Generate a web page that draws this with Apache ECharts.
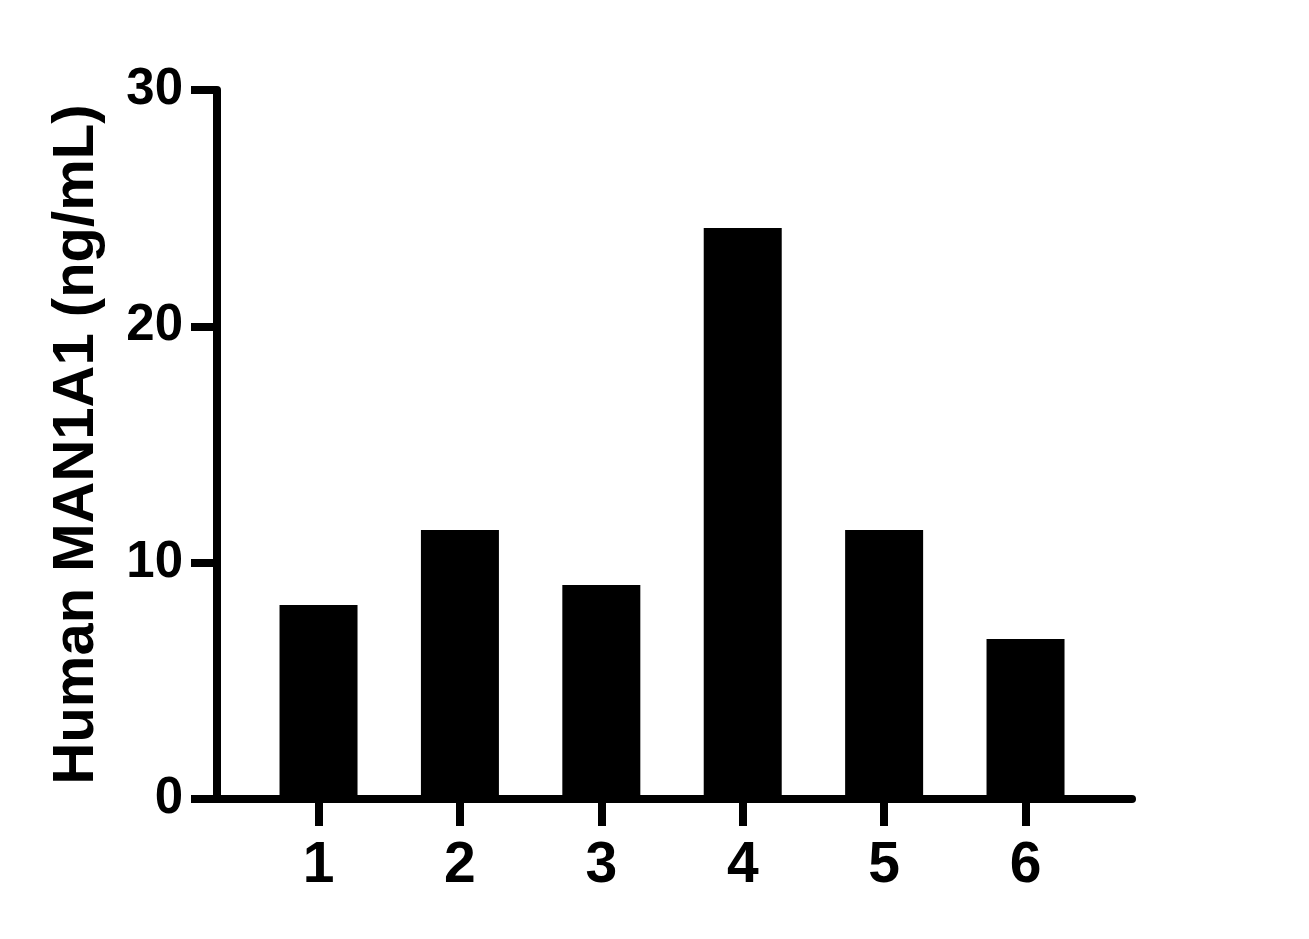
<!DOCTYPE html>
<html>
<head>
<meta charset="utf-8">
<script src="https://cdn.jsdelivr.net/npm/echarts@6/dist/echarts.min.js"></script>
<style>
html,body{margin:0;padding:0;background:#fff;}
#chart{width:1309px;height:939px;}
</style>
</head>
<body>
<div id="chart"></div>
<script>
const categories = [1, 2, 3, 4, 5, 6];
const values = [8.21, 11.38, 9.06, 24.16, 11.38, 6.77];
const yTicks = [0, 10, 20, 30];
const yTitle = 'Human MAN1A1 (ng/mL)';

const FONT = '"Liberation Sans", Arial, Helvetica, sans-serif';
const chart = echarts.init(document.getElementById('chart'));
chart.setOption({
  backgroundColor: '#ffffff',
  animation: false,
  grid: { left: 217, right: 177, top: 90, bottom: 140, containLabel: false },
  xAxis: {
    type: 'value',
    min: 0.282,
    max: 6.753,
    splitLine: { show: false },
    axisLine: { show: true, lineStyle: { color: '#000', width: 8 } },
    axisTick: { show: true, length: 27, lineStyle: { color: '#000', width: 8 }, customValues: categories },
    axisLabel: {
      show: true, customValues: categories, margin: 39,
      color: '#000', fontFamily: FONT, fontWeight: 'bold', fontSize: 57
    }
  },
  yAxis: {
    type: 'value',
    min: 0, max: 30, interval: 10,
    splitLine: { show: false },
    axisLine: { show: true, lineStyle: { color: '#000', width: 8 } },
    axisTick: { show: true, length: 26, lineStyle: { color: '#000', width: 8 }, customValues: yTicks },
    axisLabel: {
      show: true, customValues: yTicks, margin: 34,
      color: '#000', fontFamily: FONT, fontWeight: 'bold', fontSize: 51
    },
    name: yTitle,
    nameLocation: 'middle',
    nameRotate: 90,
    nameGap: 111,
    nameTextStyle: { color: '#000', fontFamily: FONT, fontWeight: 'bold', fontSize: 58 }
  },
  series: [{
    type: 'bar',
    data: categories.map((c, i) => [c, values[i]]),
    barWidth: 78,
    itemStyle: { color: '#000' }
  }]
});
</script>
</body>
</html>
